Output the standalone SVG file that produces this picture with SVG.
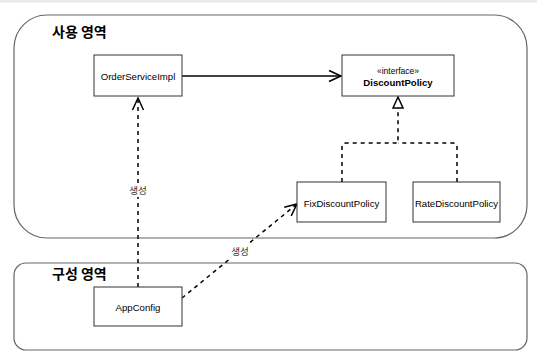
<svg xmlns="http://www.w3.org/2000/svg" width="537" height="360" viewBox="0 0 537 360">
  <defs>
    <style>
      .container { fill: #ffffff; stroke: #666666; stroke-width: 1.2; }
      .box { fill: #ffffff; stroke: #333333; stroke-width: 1; }
      .title { font-family: "Noto Sans CJK KR", "Liberation Sans", sans-serif; font-size: 14px; font-weight: bold; fill: #000; }
      .lbl { font-family: "Liberation Sans", Arial, sans-serif; font-size: 9.6px; fill: #000; text-anchor: middle; dominant-baseline: central; }
      .bold { font-weight: bold; }
      .small { font-size: 8.5px; }
      .edge { fill: none; stroke: #000; stroke-width: 1.5; }
      .dash { stroke-dasharray: 4 4; }
      .elbl { font-family: "Noto Sans CJK KR", "Liberation Sans", sans-serif; font-size: 9.6px; fill: #333; text-anchor: middle; dominant-baseline: central; }
    </style>
    <marker id="open" markerUnits="userSpaceOnUse" markerWidth="16" markerHeight="16" viewBox="-14 -8 16 16" refX="0" refY="0" orient="auto" overflow="visible">
      <path d="M -12 -5.5 L 0 0 L -12 5.5" fill="none" stroke="#000" stroke-width="1.5"/>
    </marker>
    <marker id="tri" markerUnits="userSpaceOnUse" markerWidth="16" markerHeight="16" viewBox="-14 -8 16 16" refX="0" refY="0" orient="auto" overflow="visible">
      <path d="M -11 -5 L 0 0 L -11 5 Z" fill="#fff" stroke="#000" stroke-width="1.5"/>
    </marker>
  </defs>
  <rect x="0" y="0" width="537" height="360" fill="#ffffff"/>
  <rect x="0" y="0" width="537" height="2.5" fill="#ebebeb"/>

  <g id="usage-area">
    <rect class="container" x="14" y="15" width="513" height="223" rx="33" ry="33"/>
    <text class="title" x="52" y="37">사용 영역</text>
  </g>
  <g id="config-area">
    <rect class="container" x="14" y="263" width="513" height="87" rx="12" ry="12"/>
    <text class="title" x="52" y="279">구성 영역</text>
  </g>

  <g id="connectors">
    <path class="edge" d="M 182 76 L 341 76" marker-end="url(#open)"/>
    <path class="edge dash" d="M 342 182 L 342 147 Q 342 143 346 143 L 398 143 L 398 97" marker-end="url(#tri)"/>
    <path class="edge dash" d="M 457 182 L 457 147 Q 457 143 453 143 L 398 143"/>
    <path class="edge dash" d="M 138 287 L 138 98" marker-end="url(#open)"/>
    <path class="edge dash" d="M 182 298 L 297 204" marker-end="url(#open)"/>
    <rect x="128" y="183" width="20" height="14" fill="#fff"/>
    <text class="elbl" x="138" y="190">생성</text>
    <rect x="230" y="244" width="20" height="14" fill="#fff"/>
    <text class="elbl" x="240" y="251">생성</text>
  </g>

  <g id="OrderServiceImpl">
    <rect class="box" x="94" y="55" width="88" height="41"/>
    <text class="lbl" x="138" y="76">OrderServiceImpl</text>
  </g>
  <g id="DiscountPolicy">
    <rect class="box" x="342" y="55" width="112" height="41"/>
    <text class="lbl small" x="398" y="70.5">«interface»</text>
    <text class="lbl bold" x="398" y="82">DiscountPolicy</text>
  </g>
  <g id="FixDiscountPolicy">
    <rect class="box" x="297" y="182" width="89" height="40"/>
    <text class="lbl" x="341.5" y="203">FixDiscountPolicy</text>
  </g>
  <g id="RateDiscountPolicy">
    <rect class="box" x="413" y="182" width="87" height="40"/>
    <text class="lbl" x="456.5" y="203">RateDiscountPolicy</text>
  </g>
  <g id="AppConfig">
    <rect class="box" x="94" y="287" width="88" height="39"/>
    <text class="lbl" x="138" y="307">AppConfig</text>
  </g>
</svg>
